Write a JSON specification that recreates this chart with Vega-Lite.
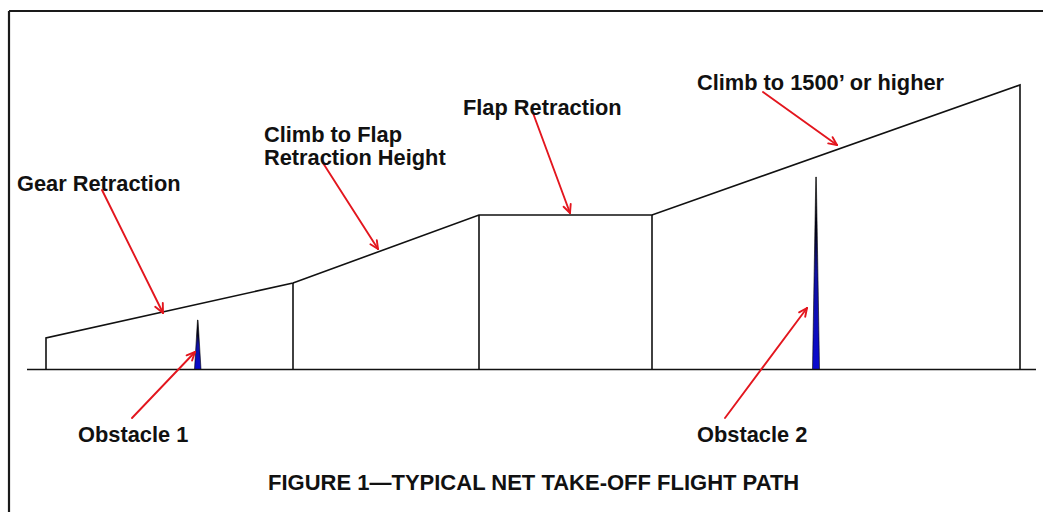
{
  "$schema": "https://vega.github.io/schema/vega-lite/v6.json",
  "width": 1043,
  "height": 512,
  "padding": 0,
  "autosize": {"type": "none"},
  "background": "white",
  "config": {"view": {"stroke": null}, "axis": {"disable": true}},
  "datasets": {
    "frame": [
      {"x": 9, "y": 11, "x2": 1050, "y2": 11},
      {"x": 9, "y": 11, "x2": 9, "y2": 520}
    ],
    "ground": [
      {"x": 27, "y": 369.5, "x2": 1036, "y2": 369.5},
      {"x": 293, "y": 369.5, "x2": 293, "y2": 283},
      {"x": 479, "y": 369.5, "x2": 479, "y2": 215},
      {"x": 652, "y": 369.5, "x2": 652, "y2": 215}
    ],
    "path": [
      {"i": 0, "x": 46, "y": 369.5},
      {"i": 1, "x": 46, "y": 338},
      {"i": 2, "x": 293, "y": 283},
      {"i": 3, "x": 479, "y": 215},
      {"i": 4, "x": 652, "y": 215},
      {"i": 5, "x": 1020, "y": 85},
      {"i": 6, "x": 1020, "y": 369.5}
    ],
    "obstacles": [
      {"obstacle": "Obstacle 1", "y": 369.5, "left": 194.5, "right": 201},
      {"obstacle": "Obstacle 1", "y": 320, "left": 197.5, "right": 198},
      {"obstacle": "Obstacle 2", "y": 369.5, "left": 812.5, "right": 819.5},
      {"obstacle": "Obstacle 2", "y": 177, "left": 815.8, "right": 816.3}
    ],
    "arrows": [
      {"x": 102, "y": 190, "x2": 163, "y2": 313},
      {"x": 162.8, "y": 303, "x2": 163, "y2": 313},
      {"x": 155.2, "y": 306.8, "x2": 163, "y2": 313},
      {"x": 323, "y": 163, "x2": 378, "y2": 249},
      {"x": 376.8, "y": 240.1, "x2": 378, "y2": 249},
      {"x": 370.4, "y": 244.2, "x2": 378, "y2": 249},
      {"x": 533, "y": 113, "x2": 570, "y2": 213},
      {"x": 570.7, "y": 204, "x2": 570, "y2": 213},
      {"x": 563.6, "y": 206.7, "x2": 570, "y2": 213},
      {"x": 763, "y": 92, "x2": 837, "y2": 145},
      {"x": 832.6, "y": 137.2, "x2": 837, "y2": 145},
      {"x": 828.2, "y": 143.4, "x2": 837, "y2": 145},
      {"x": 132, "y": 418, "x2": 195, "y2": 352},
      {"x": 186.6, "y": 355.3, "x2": 195, "y2": 352},
      {"x": 192.1, "y": 360.5, "x2": 195, "y2": 352},
      {"x": 725, "y": 418, "x2": 807, "y2": 308},
      {"x": 799.1, "y": 312.3, "x2": 807, "y2": 308},
      {"x": 805.2, "y": 316.8, "x2": 807, "y2": 308}
    ],
    "labels": [
      {"text": "Gear Retraction", "x": 17, "y": 191},
      {"text": "Climb to Flap", "x": 264, "y": 142},
      {"text": "Retraction Height", "x": 264, "y": 165},
      {"text": "Flap Retraction", "x": 463, "y": 115},
      {"text": "Climb to 1500’ or higher", "x": 697, "y": 90},
      {"text": "Obstacle 1", "x": 78, "y": 442},
      {"text": "Obstacle 2", "x": 697, "y": 442}
    ],
    "caption": [
      {"text": "FIGURE 1—TYPICAL NET TAKE-OFF FLIGHT PATH", "x": 268, "y": 490}
    ]
  },
  "layer": [
    {
      "data": {"name": "frame"},
      "mark": {"type": "rule", "stroke": "#1a1a1a", "strokeWidth": 2.2},
      "encoding": {
        "x": {"field": "x", "type": "quantitative", "scale": {"domain": [0, 1043], "nice": false, "zero": false}},
        "y": {"field": "y", "type": "quantitative", "scale": {"domain": [0, 512], "nice": false, "zero": false, "reverse": true}},
        "x2": {"field": "x2"},
        "y2": {"field": "y2"}
      }
    },
    {
      "data": {"name": "obstacles"},
      "mark": {
        "type": "area",
        "orient": "horizontal",
        "stroke": "#000000",
        "strokeWidth": 0.6,
        "fill": {
          "gradient": "linear",
          "x1": 0, "y1": 0, "x2": 0, "y2": 1,
          "stops": [
            {"offset": 0, "color": "#000000"},
            {"offset": 0.3, "color": "#050520"},
            {"offset": 0.5, "color": "#1010a0"},
            {"offset": 1, "color": "#0a0ad0"}
          ]
        }
      },
      "encoding": {
        "y": {"field": "y", "type": "quantitative"},
        "x": {"field": "left", "type": "quantitative", "stack": null},
        "x2": {"field": "right"},
        "detail": {"field": "obstacle"}
      }
    },
    {
      "data": {"name": "ground"},
      "mark": {"type": "rule", "stroke": "#111111", "strokeWidth": 1.6},
      "encoding": {
        "x": {"field": "x", "type": "quantitative"},
        "y": {"field": "y", "type": "quantitative"},
        "x2": {"field": "x2"},
        "y2": {"field": "y2"}
      }
    },
    {
      "data": {"name": "path"},
      "mark": {"type": "line", "stroke": "#111111", "strokeWidth": 1.6, "strokeJoin": "miter"},
      "encoding": {
        "x": {"field": "x", "type": "quantitative"},
        "y": {"field": "y", "type": "quantitative"},
        "order": {"field": "i", "type": "quantitative"}
      }
    },
    {
      "data": {"name": "arrows"},
      "mark": {"type": "rule", "stroke": "#e3161e", "strokeWidth": 1.9, "strokeCap": "round"},
      "encoding": {
        "x": {"field": "x", "type": "quantitative"},
        "y": {"field": "y", "type": "quantitative"},
        "x2": {"field": "x2"},
        "y2": {"field": "y2"}
      }
    },
    {
      "data": {"name": "labels"},
      "mark": {"type": "text", "align": "left", "baseline": "alphabetic", "font": "Liberation Sans", "fontWeight": "bold", "fontSize": 21.8, "fill": "#111111"},
      "encoding": {
        "x": {"field": "x", "type": "quantitative"},
        "y": {"field": "y", "type": "quantitative"},
        "text": {"field": "text"}
      }
    },
    {
      "data": {"name": "caption"},
      "mark": {"type": "text", "align": "left", "baseline": "alphabetic", "font": "Liberation Sans", "fontWeight": "bold", "fontSize": 22, "fill": "#111111"},
      "encoding": {
        "x": {"field": "x", "type": "quantitative"},
        "y": {"field": "y", "type": "quantitative"},
        "text": {"field": "text"}
      }
    }
  ]
}
